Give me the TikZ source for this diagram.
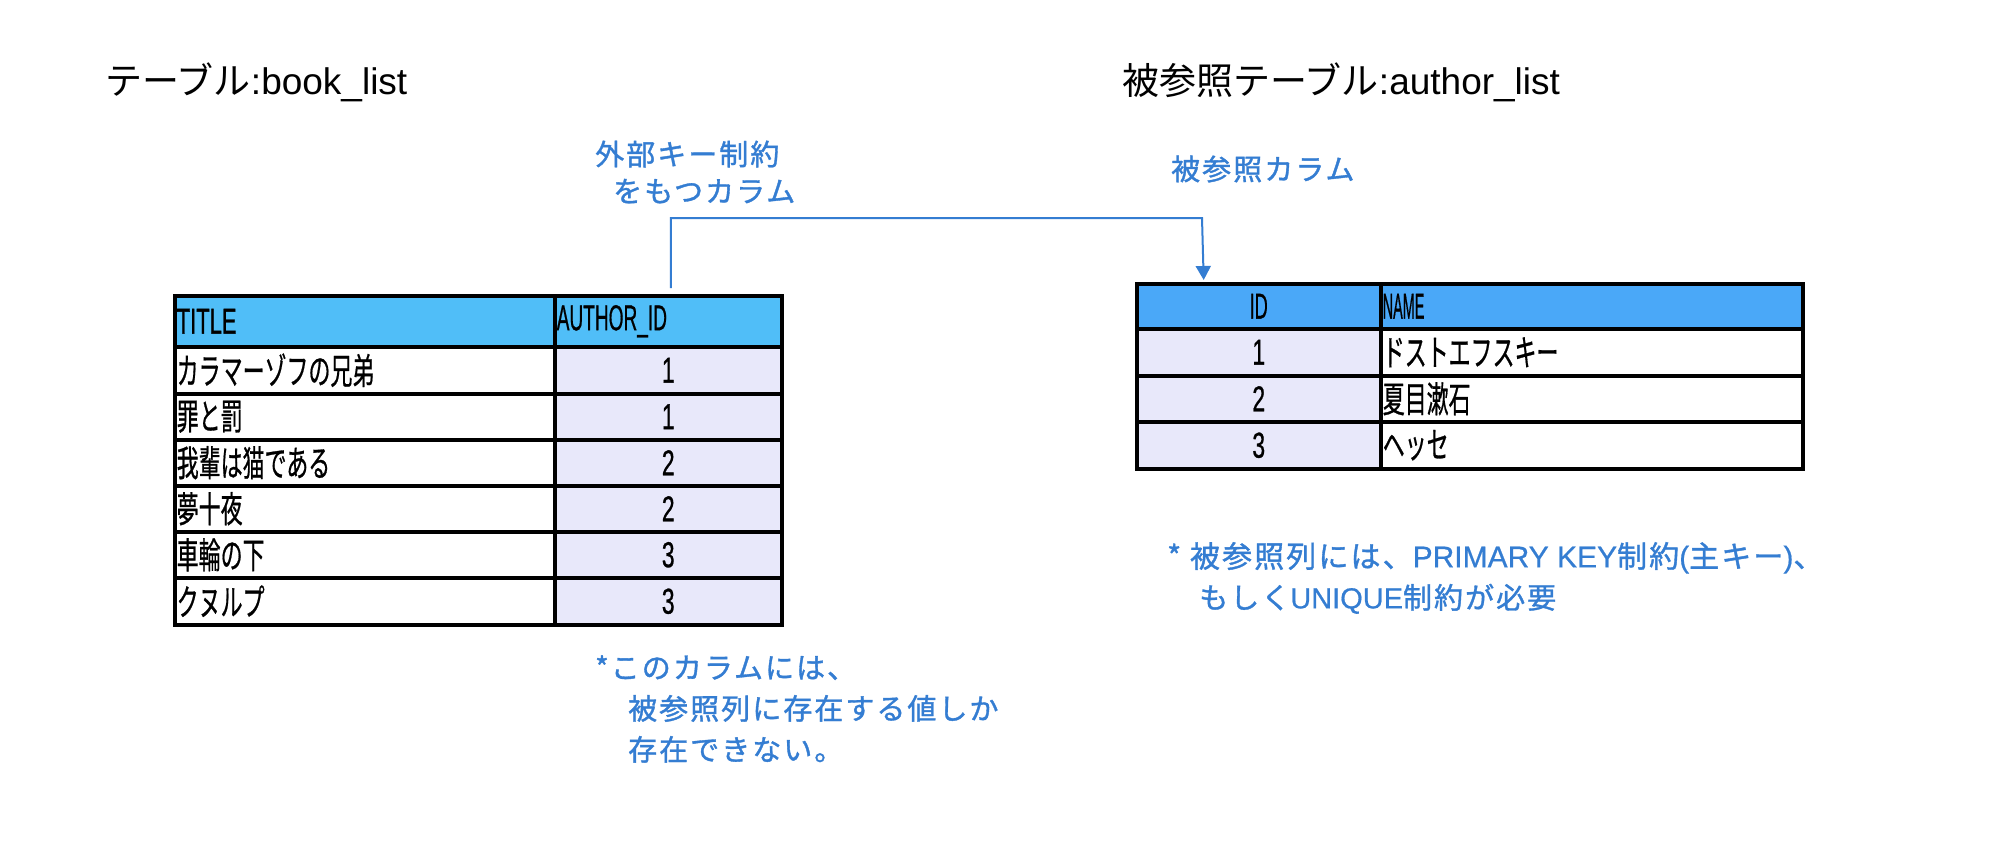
\documentclass[tikz,border=0pt]{standalone}
\usepackage{graphicx}
\usepackage{fontspec}
\setmainfont{Liberation Sans}
\newfontfamily\jp{Noto Sans CJK JP}
\newfontfamily\jpt{Noto Sans CJK JP}[FakeBold=0.8]
\newfontfamily\latt{Liberation Sans}[FakeBold=0.8]
\newfontfamily\jpb{Noto Sans CJK JP}[LetterSpace=7, FakeBold=1.2]
\newfontfamily\latb{Liberation Sans}[FakeBold=0.6]
\usetikzlibrary{arrows.meta}
\definecolor{hdrA}{RGB}{80,190,248}
\definecolor{hdrB}{RGB}{74,168,248}
\definecolor{lav}{RGB}{232,232,250}
\definecolor{notec}{RGB}{52,125,210}
\newcommand{\sq}[2][0.61]{\scalebox{#1}[1]{#2}}
\tikzset{
  cellbase/.style={draw=black, line width=3.5pt, inner xsep=2pt, inner ysep=0pt,
    anchor=north west, font=\fontsize{36}{38}\selectfont\latt},
  lcell/.style={cellbase, text width=#1, align=left},
  ccell/.style={cellbase, minimum width=#1, align=center},
  ttl/.style={anchor=base west, inner sep=0pt, font=\fontsize{37}{40}\selectfont},
  note/.style={anchor=west, inner sep=0pt, text=notec, align=left},
  link/.style={draw=notec, line width=2pt, -{Triangle[width=15pt,length=14pt]}}
}
\begin{document}
\begin{tikzpicture}[x=1pt,y=-1pt]
\useasboundingbox (0,0) rectangle (1994,862);
\fill[white] (0,0) rectangle (1994,862);

% titles
\node[ttl] (t1) at (105,94) {{\jp テーブル}:book\_list};
\node[ttl] (t2) at (1122,94) {{\jp 被参照テーブル}:author\_list};

% left table
\node[lcell=376pt, minimum height=51pt, fill=hdrA] (tH) at (173,294) {\sq{TITLE}};
\node[lcell=223pt, minimum height=51pt, fill=hdrA] (aH) at (553,294) {\sq[0.53]{AUTHOR\_ID}};
\node[lcell=376pt, minimum height=47pt, fill=white] (t1c) at (173,345) {\sq{\jpt カラマーゾフの兄弟}};
\node[ccell=227pt, minimum height=47pt, fill=lav] (a1c) at (553,345) {\sq[0.64]{1}};
\node[lcell=376pt, minimum height=46pt, fill=white] (t2c) at (173,392) {\sq{\jpt 罪と罰}};
\node[ccell=227pt, minimum height=46pt, fill=lav] (a2c) at (553,392) {\sq[0.64]{1}};
\node[lcell=376pt, minimum height=46pt, fill=white] (t3c) at (173,438) {\sq{\jpt 我輩は猫である}};
\node[ccell=227pt, minimum height=46pt, fill=lav] (a3c) at (553,438) {\sq[0.64]{2}};
\node[lcell=376pt, minimum height=46pt, fill=white] (t4c) at (173,484) {\sq{\jpt 夢十夜}};
\node[ccell=227pt, minimum height=46pt, fill=lav] (a4c) at (553,484) {\sq[0.64]{2}};
\node[lcell=376pt, minimum height=46pt, fill=white] (t5c) at (173,530) {\sq{\jpt 車輪の下}};
\node[ccell=227pt, minimum height=46pt, fill=lav] (a5c) at (553,530) {\sq[0.64]{3}};
\node[lcell=376pt, minimum height=47pt, fill=white] (t6c) at (173,576) {\sq{\jpt クヌルプ}};
\node[ccell=227pt, minimum height=47pt, fill=lav] (a6c) at (553,576) {\sq[0.64]{3}};

% right table
\node[ccell=244pt, minimum height=45pt, fill=hdrB] (iH) at (1135,282) {\sq[0.5]{ID}};
\node[lcell=418pt, minimum height=45pt, fill=hdrB] (nH) at (1379,282) {\sq[0.4]{NAME}};
\node[ccell=244pt, minimum height=47pt, fill=lav] (i1c) at (1135,327) {\sq[0.64]{1}};
\node[lcell=418pt, minimum height=47pt, fill=white] (n1c) at (1379,327) {\sq{\jpt ドストエフスキー}};
\node[ccell=244pt, minimum height=46pt, fill=lav] (i2c) at (1135,374) {\sq[0.64]{2}};
\node[lcell=418pt, minimum height=46pt, fill=white] (n2c) at (1379,374) {\sq{\jpt 夏目漱石}};
\node[ccell=244pt, minimum height=47pt, fill=lav] (i3c) at (1135,420) {\sq[0.64]{3}};
\node[lcell=418pt, minimum height=47pt, fill=white] (n3c) at (1379,420) {\sq{\jpt ヘッセ}};

% connector
\coordinate (linktop) at (1202,218);
\draw[link, shorten <=6pt, shorten >=2pt] ([xshift=2.5pt]aH.north) |- (linktop) -- ([xshift=-55pt]iH.north);

% blue labels
\node[note, font=\fontsize{29}{37}\selectfont\jpb] (fkl) at (595,172) {外部キー制約\\\hspace*{18pt}をもつカラム};
\node[note, font=\fontsize{29}{37}\selectfont\jpb] (rcl) at (1171,169) {被参照カラム};
\node[note, font=\fontsize{29}{41}\selectfont\jpb] (n1) at (595,709) {*このカラムには、\\\hspace*{33pt}被参照列に存在する値しか\\\hspace*{33pt}存在できない。};
\node[note, font=\fontsize{29}{41}\selectfont\latb] (n2) at (1167,578) {\fontsize{30}{41}\selectfont{\jpb * 被参照列には、}PRIMARY KEY{\jpb 制約}({\jpb 主キー}){\jpb 、}\\\hspace*{32pt}{\jpb もしく}UNIQUE{\jpb 制約が必要}};
\end{tikzpicture}
\end{document}
